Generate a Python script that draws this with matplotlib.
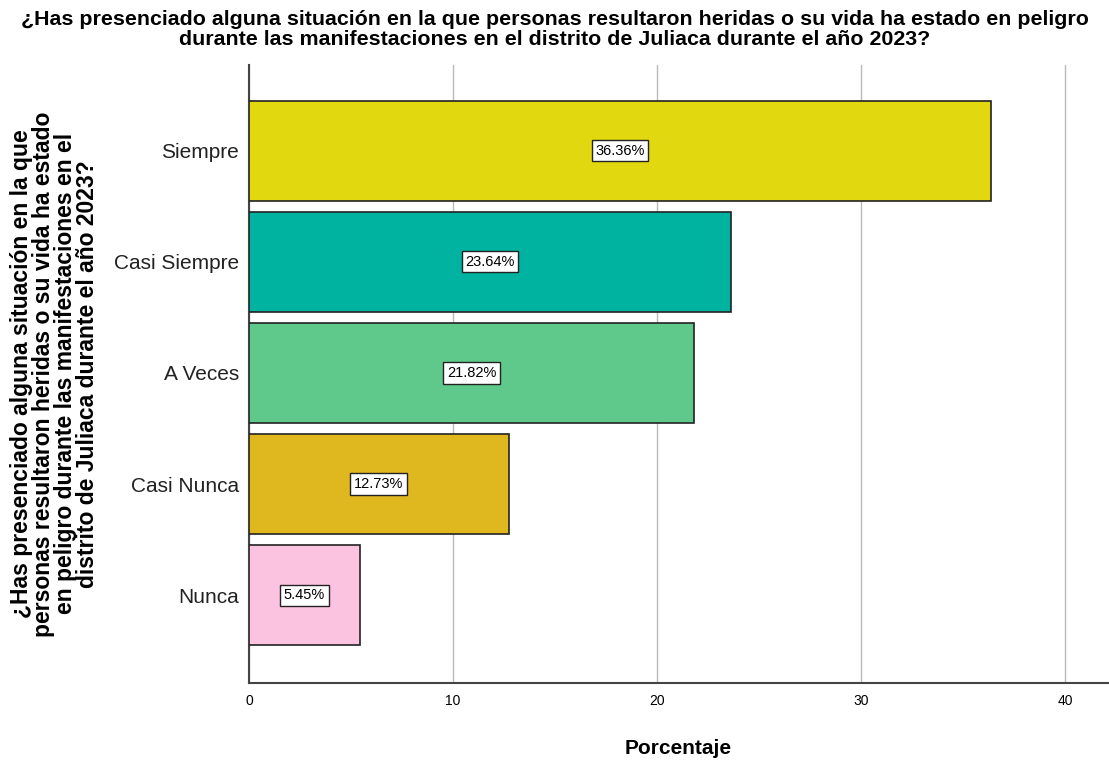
import matplotlib
matplotlib.use("Agg")
import matplotlib.pyplot as plt

categorias = ["Siempre", "Casi Siempre", "A Veces", "Casi Nunca", "Nunca"]
porcentajes = [36.36, 23.64, 21.82, 12.73, 5.45]
colores = ["#e1d80f", "#00b3a0", "#5ec98a", "#dfb81f", "#fcc3e1"]
etiquetas = ["36.36%", "23.64%", "21.82%", "12.73%", "5.45%"]
xticks = [0, 10, 20, 30, 40]

titulo = ("¿Has presenciado alguna situación en la que personas resultaron heridas o su vida ha estado en peligro\n"
          "durante las manifestaciones en el distrito de Juliaca durante el año 2023?")
ylab = ("¿Has presenciado alguna situación en la que\n"
        "personas resultaron heridas o su vida ha estado\n"
        "en peligro durante las manifestaciones en el\n"
        "distrito de Juliaca durante el año 2023?")

plt.rcParams['font.family'] = ['Liberation Sans', 'DejaVu Sans']

fig = plt.figure(figsize=(11.09, 7.60), dpi=100)
ax = fig.add_axes([0.2245, 0.1013, 0.7745, 0.8132])

pos = list(range(len(categorias)))
ax.barh(pos, porcentajes, height=0.9, color=colores, edgecolor="#222222", linewidth=1.2, zorder=3)
for p, v, t in zip(pos, porcentajes, etiquetas):
    ax.text(v / 2, p, t, ha="center", va="center", fontsize=10.5, zorder=4,
            bbox=dict(boxstyle="square,pad=0.25", fc="white", ec="#222222", lw=1))

ax.set_ylim(4.79, -0.77)
ax.set_xlim(0, 42.1)
ax.set_yticks(pos)
ax.set_yticklabels(categorias, fontsize=15, color="#222222")
ax.set_xticks(xticks)
ax.set_xticklabels([str(x) for x in xticks], fontsize=10)
ax.tick_params(length=0, pad=7)
ax.tick_params(axis="x", pad=8)
ax.grid(axis="x", color="#bbbbbb", linewidth=1, zorder=0)
for s in ["top", "right"]:
    ax.spines[s].set_visible(False)
for s in ["left", "bottom"]:
    ax.spines[s].set_color("#444444")
    ax.spines[s].set_linewidth(1.5)

ax.set_xlabel("Porcentaje", fontsize=15, fontweight="bold", labelpad=22)
fig.text(0.049, 0.508, ylab, rotation=90, ha="center", va="center", fontsize=16.5,
         fontweight="bold", linespacing=0.95)
fig.text(0.5, 0.987, titulo, ha="center", va="top", fontsize=15.4, fontweight="bold",
         linespacing=1.1)

fig.savefig("out.png", dpi=100)
